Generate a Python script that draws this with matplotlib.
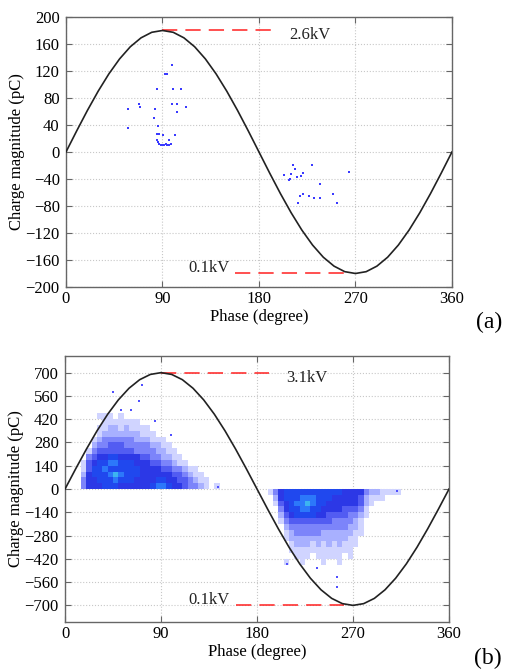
import numpy as np
import matplotlib.pyplot as plt
from matplotlib.colors import ListedColormap, BoundaryNorm

plt.rcParams['font.family'] = ['Liberation Serif', 'DejaVu Serif']
plt.rcParams['font.size'] = 12

# applied voltage curve (scaled to the charge axis), read every 10 degrees
phase_deg = list(range(0, 361, 10))
curve_a = [0, 31.3, 61.6, 90, 115.7, 137.9, 155.9, 169.1, 177.3, 180,
           177.3, 169.1, 155.9, 137.9, 115.7, 90, 61.6, 31.3, 0,
           -31.3, -61.6, -90, -115.7, -137.9, -155.9, -169.1, -177.3, -180,
           -177.3, -169.1, -155.9, -137.9, -115.7, -90, -61.6, -31.3, 0]
curve_b = [0, 121.6, 239.4, 350, 450, 536.2, 606.2, 657.8, 689.4, 700,
           689.4, 657.8, 606.2, 536.2, 450, 350, 239.4, 121.6, 0,
           -121.6, -239.4, -350, -450, -536.2, -606.2, -657.8, -689.4, -700,
           -689.4, -657.8, -606.2, -536.2, -450, -350, -239.4, -121.6, 0]

# (a) individual discharges
pd_a_phase = [57.9, 57.9, 68.5, 68.6, 82.8, 81.8, 84.7, 86.0, 85.3, 87.2, 90.6,
              85.3, 86.0, 87.2, 88.5, 90.0, 91.5, 93.0, 94.5, 96.0, 97.5,
              96.2, 101.4, 92.5, 94.4, 99.0, 99.6, 99.3, 103.3, 103.2, 107.7, 112.1,
              211.7, 229.5, 214.0, 203.7, 209.6, 207.7, 209.3, 215.5, 219.2, 221.1,
              236.9, 263.7, 221.4, 218.6, 226.7, 231.7, 237.3, 216.3, 248.8, 253.2]
pd_a_charge = [63.5, 34.8, 71, 66, 63.5, 51, 92.8, 38, 27, 27, 25.8,
               17.4, 15, 11.5, 10.5, 11, 10, 12, 10.5, 11, 12.5,
               18.4, 24.8, 115.6, 115.6, 129, 92.8, 71, 70.5, 59.5, 92.8, 67,
               -18.8, -18.8, -25.3, -34.7, -32.7, -42.1, -40.6, -36.6, -35.1, -31.2,
               -47, -29.8, -61.9, -65.4, -65.4, -68.9, -68.9, -75.9, -61.9, -76.3]

# (b) density levels (0 = none, 9 = highest), 5 degree x 35 pC cells
pos_phase_edges = list(range(15, 146, 5))
pos_charge_edges = list(range(0, 456, 35))
pos_density = [
    [3, 5, 5, 5, 6, 6, 6, 5, 5, 5, 5, 5, 5, 6, 7, 7, 6, 5, 5, 4, 3, 3, 2, 1, 0, 1],
    [3, 5, 5, 6, 6, 6, 7, 6, 6, 6, 5, 5, 5, 5, 6, 6, 5, 5, 4, 4, 3, 2, 1, 1, 0, 0],
    [2, 5, 6, 6, 6, 7, 8, 7, 6, 6, 6, 5, 5, 5, 5, 5, 5, 4, 4, 3, 2, 1, 1, 0, 0, 0],
    [1, 4, 6, 6, 7, 6, 6, 6, 6, 6, 6, 5, 5, 5, 5, 4, 4, 3, 3, 2, 1, 1, 0, 0, 0, 0],
    [1, 4, 5, 6, 6, 7, 7, 6, 6, 6, 5, 5, 5, 4, 4, 3, 3, 2, 1, 1, 0, 0, 0, 0, 0, 0],
    [0, 3, 4, 5, 5, 6, 6, 5, 5, 5, 5, 4, 4, 3, 3, 2, 2, 1, 1, 0, 0, 0, 0, 0, 0, 0],
    [0, 1, 3, 4, 4, 4, 4, 4, 4, 4, 3, 3, 3, 3, 2, 2, 1, 1, 0, 0, 0, 0, 0, 0, 0, 0],
    [0, 0, 2, 3, 3, 4, 4, 4, 3, 3, 3, 3, 3, 2, 2, 1, 1, 0, 0, 0, 0, 0, 0, 0, 0, 0],
    [0, 0, 1, 2, 3, 3, 3, 3, 3, 3, 2, 2, 2, 1, 1, 1, 0, 0, 0, 0, 0, 0, 0, 0, 0, 0],
    [0, 0, 0, 1, 2, 2, 2, 2, 2, 2, 2, 1, 1, 1, 0, 0, 0, 0, 0, 0, 0, 0, 0, 0, 0, 0],
    [0, 0, 0, 1, 1, 2, 2, 1, 2, 1, 1, 1, 1, 0, 0, 0, 0, 0, 0, 0, 0, 0, 0, 0, 0, 0],
    [0, 0, 0, 0, 1, 1, 1, 1, 1, 1, 1, 0, 0, 0, 0, 0, 0, 0, 0, 0, 0, 0, 0, 0, 0, 0],
    [0, 0, 0, 1, 1, 1, 0, 1, 0, 0, 0, 0, 0, 0, 0, 0, 0, 0, 0, 0, 0, 0, 0, 0, 0, 0],
]
neg_phase_edges = list(range(190, 316, 5))
neg_charge_edges = list(range(0, -456, -35))
neg_density = [
    [1, 3, 5, 6, 6, 6, 6, 6, 6, 6, 6, 6, 6, 6, 5, 5, 5, 5, 3, 2, 2, 1, 1, 1, 1],
    [0, 2, 5, 6, 6, 6, 7, 7, 7, 6, 6, 6, 5, 5, 5, 5, 5, 4, 2, 1, 1, 1, 0, 0, 0],
    [0, 1, 4, 5, 6, 7, 7, 8, 7, 6, 6, 5, 5, 5, 5, 5, 5, 4, 2, 1, 0, 0, 0, 0, 0],
    [0, 0, 3, 5, 6, 6, 7, 7, 6, 6, 5, 5, 5, 5, 4, 4, 4, 3, 1, 0, 0, 0, 0, 0, 0],
    [0, 0, 2, 4, 5, 6, 6, 6, 6, 5, 5, 4, 4, 4, 4, 3, 3, 2, 1, 0, 0, 0, 0, 0, 0],
    [0, 0, 1, 3, 4, 4, 4, 4, 4, 4, 4, 4, 3, 3, 3, 3, 2, 1, 0, 0, 0, 0, 0, 0, 0],
    [0, 0, 0, 2, 3, 3, 3, 3, 3, 3, 3, 3, 3, 3, 3, 2, 2, 1, 0, 0, 0, 0, 0, 0, 0],
    [0, 0, 0, 1, 2, 3, 3, 3, 3, 3, 2, 2, 2, 2, 2, 2, 1, 1, 0, 0, 0, 0, 0, 0, 0],
    [0, 0, 0, 1, 2, 2, 2, 2, 2, 2, 2, 2, 2, 2, 2, 1, 1, 0, 0, 0, 0, 0, 0, 0, 0],
    [0, 0, 0, 0, 1, 2, 2, 2, 1, 2, 1, 2, 1, 2, 1, 1, 1, 0, 0, 0, 0, 0, 0, 0, 0],
    [0, 0, 0, 0, 1, 1, 1, 1, 1, 1, 1, 1, 1, 1, 1, 1, 0, 0, 0, 0, 0, 0, 0, 0, 0],
    [0, 0, 0, 0, 0, 1, 1, 1, 0, 1, 1, 1, 1, 1, 0, 1, 0, 0, 0, 0, 0, 0, 0, 0, 0],
    [0, 0, 0, 1, 0, 0, 1, 0, 0, 0, 1, 0, 0, 1, 0, 0, 0, 0, 0, 0, 0, 0, 0, 0, 0],
]
# isolated discharges outside the dense clusters
pd_b_phase = [72, 69.5, 44.7, 52.5, 61.9, 84.7, 99, 143.6,
              254.7, 254.7, 236.5, 207.8, 311]
pd_b_charge = [626, 531, 586, 473, 473, 407, 327, 12,
               -528, -590, -474, -451, -14]

# voltage markers: (phase start, phase end, level, text, text phase, text level, align)
marks_a = [(90, 192, 180, '2.6kV', 208, 174, 'left'),
           (158, 262, -180, '0.1kV', 153, -172, 'right')]
marks_b = [(90, 191, 700, '3.1kV', 207, 670, 'left'),
           (160, 262, -700, '0.1kV', 154, -665, 'right')]

level_colors = ['#d0d4ff', '#a8b0ff', '#7c84fa', '#525cf2', '#2c38e6',
                '#2048ee', '#2c78fa', '#3cb4f0', '#6cdcac']
cmap = ListedColormap(level_colors)
norm = BoundaryNorm(np.arange(0.5, 10.5, 1), cmap.N)


def style_axes(ax, ylim, yticks):
    ax.set_xlim(0, 360)
    ax.set_ylim(*ylim)
    ax.set_xticks([0, 90, 180, 270, 360])
    ax.set_yticks(yticks)
    ax.grid(True, ls=':', color='#c8c8c8', lw=0.8)
    ax.set_axisbelow(True)
    for s in ax.spines.values():
        s.set_color('#666666')
        s.set_linewidth(1.0)
    ax.tick_params(direction='in', top=True, right=True, length=4,
                   color='#666666', labelsize=12, pad=3)
    ax.tick_params(axis='y', pad=4.5)
    ax.set_xlabel('Phase (degree)', labelpad=1)
    ax.set_ylabel('Charge magnitude (pC)', labelpad=0.5)


def draw_marks(ax, marks):
    for x0, x1, lvl, txt, tx, ty, ha in marks:
        ax.plot([x0, x1], [lvl, lvl], color='#ff2020', lw=1.1,
                ls=(0, (10, 5.3)), zorder=4)
        ax.text(tx, ty, txt, ha=ha, va='center', fontsize=12, color='#222222')


fig = plt.figure(figsize=(5.06, 6.71), dpi=100)
ax1 = fig.add_axes([0.1304, 0.5723, 0.7628, 0.4024])
ax2 = fig.add_axes([0.1285, 0.0730, 0.7589, 0.3964])

# (a)
ax1.scatter(pd_a_phase, pd_a_charge, s=3, marker='s', color='#3a3aff',
            linewidths=0, zorder=3)
ax1.plot(phase_deg, curve_a, color='#222222', lw=1.2, zorder=5)
draw_marks(ax1, marks_a)
style_axes(ax1, (-200, 200), list(range(-200, 201, 40)))

# (b)
ax2.pcolormesh(pos_phase_edges, pos_charge_edges,
               np.ma.masked_equal(np.array(pos_density), 0),
               cmap=cmap, norm=norm, zorder=2)
ax2.pcolormesh(neg_phase_edges, neg_charge_edges,
               np.ma.masked_equal(np.array(neg_density), 0),
               cmap=cmap, norm=norm, zorder=2)
ax2.scatter(pd_b_phase, pd_b_charge, s=2, marker='s', color='#5050ff',
            linewidths=0, zorder=3)
ax2.plot(phase_deg, curve_b, color='#222222', lw=1.2, zorder=5)
draw_marks(ax2, marks_b)
style_axes(ax2, (-800, 800), list(range(-700, 701, 140)))

fig.text(0.966, 0.520, '(a)', fontsize=17, ha='center', va='center')
fig.text(0.964, 0.018, '(b)', fontsize=17, ha='center', va='center')

fig.savefig('out.png', dpi=100)
